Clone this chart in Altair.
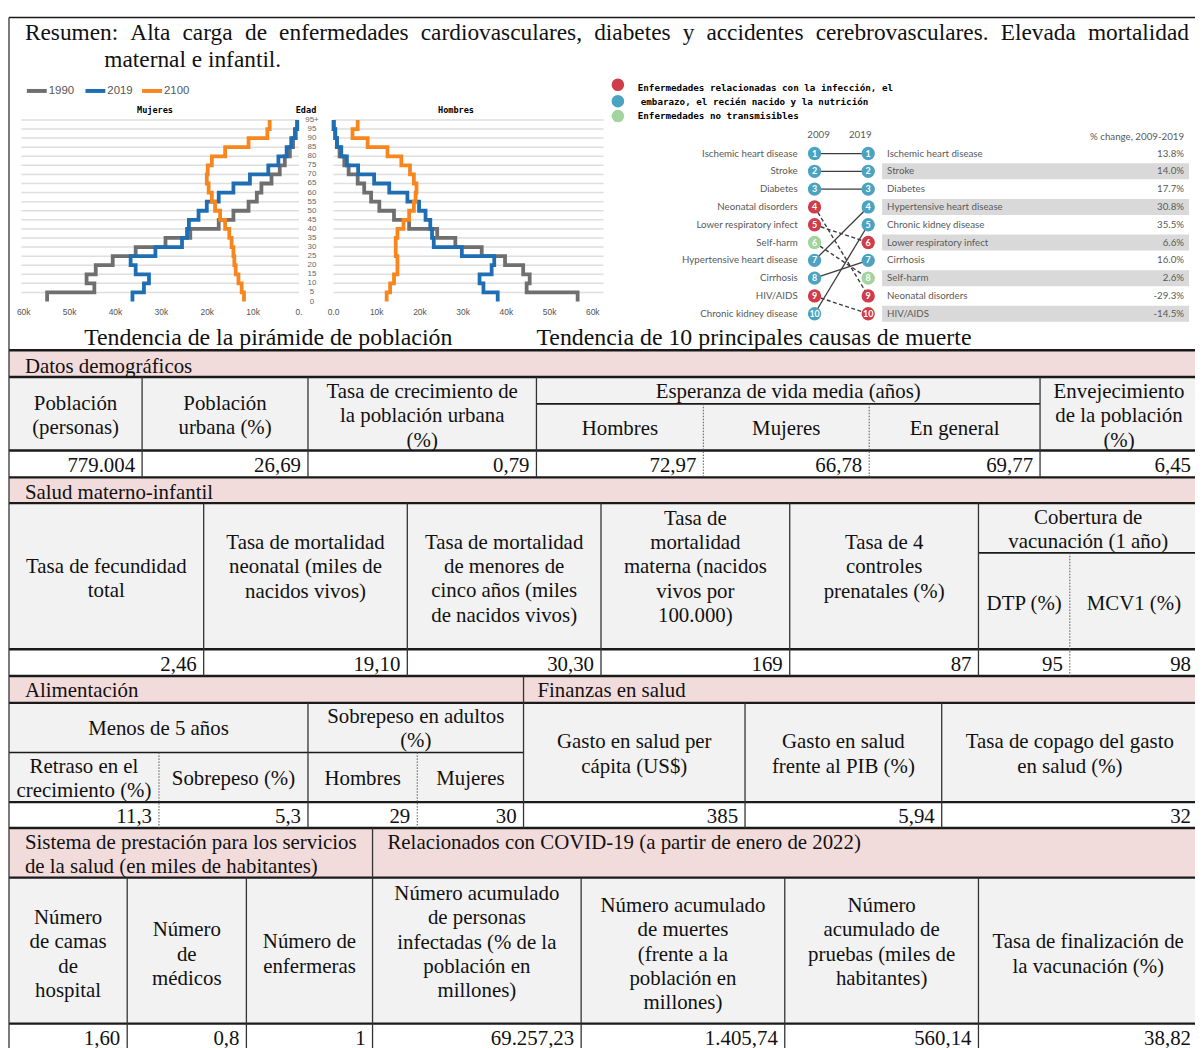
import altair as alt
import pandas as pd

# ======================= DATA =======================
summary_line1 = ("Resumen: Alta carga de enfermedades cardiovasculares, diabetes y "
                 "accidentes cerebrovasculares. Elevada mortalidad")
summary_line2 = "maternal e infantil."
title_pyramid = "Tendencia de la pirámide de población"
title_causes = "Tendencia de 10 principales causas de muerte"

# population pyramid, thousands of people per 5-year age group (0-4 ... 95+)
age_starts = list(range(0, 100, 5))
age_tick_labels = [str(a) for a in range(0, 100, 5)] + ["95+"]
pyramid_years = ["1990", "2019", "2100"]
women_1990 = [54.9, 44.6, 46.3, 44.3, 40.6, 35.6, 29.1, 23.7, 17.5, 14.3,
              11.0, 9.2, 8.2, 6.0, 4.2, 3.1, 2.0, 1.3, 0.7, 0.4]
women_2019 = [36.3, 33.8, 32.7, 35.6, 36.7, 31.3, 25.5, 24.4, 24.0, 21.9,
              20.1, 17.5, 14.3, 10.7, 6.7, 4.5, 2.7, 1.7, 0.9, 0.4]
women_2100 = [12.0, 12.5, 13.2, 13.8, 14.1, 14.3, 14.7, 15.2, 16.1, 17.2,
              18.3, 19.0, 19.7, 20.1, 19.9, 19.0, 16.1, 11.0, 6.9, 6.4]
men_1990 = [56.5, 44.7, 45.4, 43.9, 39.7, 34.3, 28.2, 24.0, 17.5, 14.0,
            10.6, 8.7, 7.1, 5.6, 3.5, 2.5, 1.4, 0.8, 0.4, 0.1]
men_2019 = [38.0, 34.7, 33.8, 36.6, 37.2, 29.7, 23.2, 22.8, 22.4, 21.3,
            19.8, 17.1, 12.9, 9.4, 5.7, 3.1, 1.8, 0.8, 0.4, 0.0]
men_2100 = [12.3, 13.1, 14.0, 14.8, 14.8, 14.4, 14.4, 14.8, 16.2, 17.5,
            18.6, 19.0, 19.2, 18.6, 17.7, 15.7, 12.5, 7.9, 4.4, 5.6]
pyr_ticks_k = [0, 10, 20, 30, 40, 50, 60]
women_tick_labels = ["0.", "10k", "20k", "30k", "40k", "50k", "60k"]
men_tick_labels = ["0.0", "10k", "20k", "30k", "40k", "50k", "60k"]
pyr_label_women = "Mujeres"
pyr_label_men = "Hombres"
pyr_label_age = "Edad"

# top-10 causes of death
cause_years = [2009, 2019]
causes_2009 = ["Ischemic heart disease", "Stroke", "Diabetes", "Neonatal disorders",
               "Lower respiratory infect", "Self-harm", "Hypertensive heart disease",
               "Cirrhosis", "HIV/AIDS", "Chronic kidney disease"]
groups_2009 = ["ncd", "ncd", "ncd", "cmnn", "cmnn", "inj", "ncd", "ncd", "cmnn", "ncd"]
causes_2019 = ["Ischemic heart disease", "Stroke", "Diabetes", "Hypertensive heart disease",
               "Chronic kidney disease", "Lower respiratory infect", "Cirrhosis",
               "Self-harm", "Neonatal disorders", "HIV/AIDS"]
groups_2019 = ["ncd", "ncd", "ncd", "ncd", "ncd", "cmnn", "ncd", "inj", "cmnn", "cmnn"]
pct_change = ["13.8%", "14.0%", "17.7%", "30.8%", "35.5%", "6.6%", "16.0%", "2.6%",
              "-29.3%", "-14.5%"]
pct_header = "% change, 2009-2019"
cause_groups = ["cmnn", "ncd", "inj"]
cause_legend_lines = ["Enfermedades relacionadas con la infección, el",
                      "embarazo, el recién nacido y la nutrición",
                      "Enfermedades no transmisibles"]

# tables
demo_section = "Datos demográficos"
demo_group_header = "Esperanza de vida media (años)"
demo_headers = ["Población\n(personas)", "Población\nurbana (%)",
                "Tasa de crecimiento de\nla población urbana\n(%)",
                "Hombres", "Mujeres", "En general",
                "Envejecimiento\nde la población\n(%)"]
demo_values = ["779.004", "26,69", "0,79", "72,97", "66,78", "69,77", "6,45"]

mch_section = "Salud materno-infantil"
mch_group_header = "Cobertura de\nvacunación (1 año)"
mch_headers = ["Tasa de fecundidad\ntotal",
               "Tasa de mortalidad\nneonatal (miles de\nnacidos vivos)",
               "Tasa de mortalidad\nde menores de\ncinco años (miles\nde nacidos vivos)",
               "Tasa de\nmortalidad\nmaterna (nacidos\nvivos por\n100.000)",
               "Tasa de 4\ncontroles\nprenatales (%)",
               "DTP (%)", "MCV1 (%)"]
mch_values = ["2,46", "19,10", "30,30", "169", "87", "95", "98"]

nut_section = "Alimentación"
fin_section = "Finanzas en salud"
nut_group_headers = ["Menos de 5 años", "Sobrepeso en adultos\n(%)"]
nut_fin_headers = ["Retraso en el\ncrecimiento (%)", "Sobrepeso (%)", "Hombres", "Mujeres",
                   "Gasto en salud per\ncápita (US$)", "Gasto en salud\nfrente al PIB (%)",
                   "Tasa de copago del gasto\nen salud (%)"]
nut_fin_values = ["11,3", "5,3", "29", "30", "385", "5,94", "32"]

sys_section = "Sistema de prestación para los servicios\nde la salud (en miles de habitantes)"
covid_section = "Relacionados con COVID-19 (a partir de enero de 2022)"
sys_covid_headers = ["Número\nde camas\nde\nhospital", "Número\nde\nmédicos",
                     "Número de\nenfermeras",
                     "Número acumulado\nde personas\ninfectadas (% de la\npoblación en\nmillones)",
                     "Número acumulado\nde muertes\n(frente a la\npoblación en\nmillones)",
                     "Número\nacumulado de\npruebas (miles de\nhabitantes)",
                     "Tasa de finalización de\nla vacunación (%)"]
sys_covid_values = ["1,60", "0,8", "1", "69.257,23", "1.405,74", "560,14", "38,82"]

# ======================= STYLE / LAYOUT =======================
SERIF = "Liberation Serif"
SANS = "Liberation Sans"
PINK = "#f2dcdb"
HEAD = "#f2f2f2"
LINE = "#1a1a1a"
pyr_colors = ["#6f6f6f", "#1f6eb3", "#f7861e"]
group_colors = ["#cf3d4b", "#4ba3c1", "#a2d49d"]

W, H = 1195, 1040
XP = alt.Scale(domain=[8, 8 + W], range=[0, W], nice=False, zero=False)
YP = alt.Scale(domain=[8, 8 + H], range=[0, H], nice=False, zero=False)


def px(v):
    return v - 8


def xq(f, scale=XP):
    return alt.X(f + ":Q", scale=scale, axis=None)


def yq(f, scale=YP):
    return alt.Y(f + ":Q", scale=scale, axis=None)


layers = []


def add_text(rows, dy=0.0, **mk):
    opts = dict(font=SERIF, fontSize=21, color="#111111", align="center",
                baseline="middle", lineBreak="\n", lineHeight=24.5)
    opts.update(mk)
    lh = opts["lineHeight"]
    # multi-line blocks: centre the whole block on the given y
    rows = [(x, y + dy - (t.count("\n")) * lh / 2.0, t) for x, y, t in rows]
    df = pd.DataFrame(rows, columns=["x", "y", "t"])
    layers.append(alt.Chart(df).mark_text(**opts).encode(
        x=xq("x"), y=yq("y"), text="t:N"))


# ---------- table geometry ----------
L, R = 9, 1206
pink_rows = [(349, 376), (477, 503), (677, 704), (830, 880)]
head_rows = [(376, 450), (503, 650), (704, 804), (880, 1027)]
demo_cols = [9, 143, 310, 540, 708, 875, 1047, 1206]
mch_cols = [9, 205, 410, 605, 795, 985, 1077, 1206]
nut_cols = [9, 160, 310, 420, 527, 750, 948, 1206]
sys_cols = [9, 128, 248, 375, 585, 790, 985, 1206]
data_cy = [464, 664, 817, 1041]
TDY = 1.5  # vertical nudge of table text

fills = [(L, R, a, b, PINK) for a, b in pink_rows] + [(L, R, a, b, HEAD) for a, b in head_rows]
fill_df = pd.DataFrame(fills, columns=["x1", "x2", "y1", "y2", "fill"])
layers.append(alt.Chart(fill_df).mark_rect(strokeWidth=0).encode(
    x=xq("x1"), x2="x2:Q", y=yq("y1"), y2="y2:Q", fill=alt.Fill("fill:N", scale=None)))

# horizontal lines
thick_h = [349, 376, 450, 477, 503, 650, 677, 704, 804, 830, 880, 1027]
h_df = pd.DataFrame([(L, R, y) for y in thick_h], columns=["x1", "x2", "y"])
layers.append(alt.Chart(h_df).mark_rule(color=LINE, strokeWidth=2.4).encode(
    x=xq("x1"), x2="x2:Q", y=yq("y")))
thin_h = [(L, R, 14), (540, 1047, 403), (985, R, 553), (L, 527, 754)]
th_df = pd.DataFrame(thin_h, columns=["x1", "x2", "y"])
layers.append(alt.Chart(th_df).mark_rule(color=LINE, strokeWidth=1.6).encode(
    x=xq("x1"), x2="x2:Q", y=yq("y")))

# vertical lines
vs = [(L, 14, 1056)]
vs += [(x, 376, 477) for x in [143, 310, 540, 1047]]
vs += [(x, 503, 677) for x in [205, 410, 605, 795, 985]]
vs += [(527, 677, 704)]
vs += [(x, 704, 830) for x in [310, 527, 750, 948]]
vs += [(375, 830, 880)]
vs += [(x, 880, 1056) for x in [128, 248, 375, 585, 790, 985]]
v_df = pd.DataFrame(vs, columns=["x", "y1", "y2"])
layers.append(alt.Chart(v_df).mark_rule(color="#333333", strokeWidth=1.3).encode(
    x=xq("x"), y=yq("y1"), y2="y2:Q"))
dots = [(708, 403, 477), (875, 403, 477), (1077, 553, 677), (160, 754, 830), (420, 754, 830)]
d_df = pd.DataFrame(dots, columns=["x", "y1", "y2"])
layers.append(alt.Chart(d_df).mark_rule(color="#555555", strokeWidth=1, strokeDash=[1.5, 1.5]).encode(
    x=xq("x"), y=yq("y1"), y2="y2:Q"))

# section titles (left aligned)
add_text([(25, 364, demo_section), (25, 491, mch_section), (25, 691, nut_section),
          (541, 691, fin_section), (25, 856, sys_section), (390, 844, covid_section)],
         dy=TDY, align="left")


def mid(a, b):
    return (a + b) / 2.0


# header texts
head_rows_txt = []
demo_cy = [414, 414, 414, 427, 427, 427, 414]
for i, t in enumerate(demo_headers):
    head_rows_txt.append((mid(demo_cols[i], demo_cols[i + 1]), demo_cy[i], t))
head_rows_txt.append((mid(540, 1047), 390, demo_group_header))
mch_cy = [578, 566, 578, 566, 566, 603, 603]
for i, t in enumerate(mch_headers):
    head_rows_txt.append((mid(mch_cols[i], mch_cols[i + 1]), mch_cy[i], t))
head_rows_txt.append((mid(985, R), 528.5, mch_group_header))
head_rows_txt.append((mid(L, 310), 729, nut_group_headers[0]))
head_rows_txt.append((mid(310, 527), 729, nut_group_headers[1]))
nut_cy = [779.5, 779, 779, 779, 754.5, 754.5, 754.5]
for i, t in enumerate(nut_fin_headers):
    head_rows_txt.append((mid(nut_cols[i], nut_cols[i + 1]), nut_cy[i], t))
sys_cy = [956, 956, 956, 944, 956, 944, 956]
for i, t in enumerate(sys_covid_headers):
    head_rows_txt.append((mid(sys_cols[i], sys_cols[i + 1]), sys_cy[i], t))
add_text(head_rows_txt, dy=TDY)

# data values (right aligned)
vals = []
for cols, values, cy in [(demo_cols, demo_values, data_cy[0]), (mch_cols, mch_values, data_cy[1]),
                         (nut_cols, nut_fin_values, data_cy[2]), (sys_cols, sys_covid_values, data_cy[3])]:
    for i, v in enumerate(values):
        vals.append((cols[i + 1] - 7, cy, v))
add_text(vals, dy=TDY, align="right")

# chart titles
add_text([(270, 336, title_pyramid), (759, 336, title_causes)], dy=1, fontSize=24)

# summary (justified first line)
TW = dict(zip("abcdefghijklmnopqrstuvwxyz",
              [444, 500, 444, 500, 444, 333, 500, 500, 278, 278, 500, 278, 778,
               500, 500, 500, 500, 333, 389, 278, 500, 500, 722, 500, 500, 444]))
TW.update({"A": 722, "E": 611, "R": 667, ",": 250, ".": 250, ":": 278, " ": 250})
SUM_SIZE = 23.5


def tw(s):
    return sum(TW.get(c, 500) for c in s) / 1000.0 * SUM_SIZE


words = summary_line1.split(" ")
left, right = 25, 1197
gap = (right - left - sum(tw(w) for w in words)) / (len(words) - 1)
pos, xs = left, []
for w in words:
    xs.append(pos)
    pos += tw(w) + gap
sum_rows = [(x, 30, w) for x, w in zip(xs, words)] + [(105, 57, summary_line2)]
add_text(sum_rows, align="left", fontSize=SUM_SIZE)

# ---------- population pyramid ----------
LX = alt.Scale(domain=[0, 60], range=[px(301), px(301 - 6 * 46.2)], nice=False, zero=False)
RX = alt.Scale(domain=[0, 60], range=[px(335.7), px(335.7 + 6 * 43.5)], nice=False, zero=False)
AY = alt.Scale(domain=[0, 100], range=[px(300), px(117.2)], nice=False, zero=False)

grid_df = pd.DataFrame({"age": [a + 5 for a in age_starts], "lo": 0})
layers.append(alt.Chart(grid_df.assign(hi=60.5)).mark_rule(color="#dedede", strokeWidth=1.5).encode(
    x=xq("lo", LX), x2="hi:Q", y=yq("age", AY)))
layers.append(alt.Chart(grid_df.assign(hi=62.5)).mark_rule(color="#dedede", strokeWidth=1.5).encode(
    x=xq("lo", RX), x2="hi:Q", y=yq("age", AY)))


def pyr_frame(series):
    rows = []
    for yr, vals_ in zip(pyramid_years, series):
        for a, v in zip(age_starts + [100], vals_ + [vals_[-1]]):
            rows.append(dict(year=yr, age=a, value=v))
    return pd.DataFrame(rows)


for series, sc in [([women_1990, women_2019, women_2100], LX), ([men_1990, men_2019, men_2100], RX)]:
    layers.append(alt.Chart(pyr_frame(series)).mark_line(
        interpolate="step-before", strokeWidth=3.8).encode(
        x=xq("value", sc), y=yq("age", AY),
        color=alt.Color("year:N", scale=alt.Scale(domain=pyramid_years, range=pyr_colors), legend=None),
        detail="year:N", order="age:Q"))

for labels, sc in [(women_tick_labels, LX), (men_tick_labels, RX)]:
    tdf = pd.DataFrame({"v": pyr_ticks_k, "t": labels})
    layers.append(alt.Chart(tdf).mark_text(font=SANS, fontSize=8.5, color="#555555").encode(
        x=xq("v", sc), y=alt.value(px(311)), text="t:N"))

adf = pd.DataFrame({"age": age_starts + [100], "t": age_tick_labels})
layers.append(alt.Chart(adf).mark_text(font=SANS, fontSize=8, color="#666666").encode(
    x=alt.value(px(314)), y=yq("age", AY), text="t:N"))

add_text([(156, 107, pyr_label_women), (308, 107, pyr_label_age), (459, 107, pyr_label_men)],
         font="DejaVu Sans Mono", fontWeight="bold", fontSize=8.6, color="#000000")

# pyramid legend
leg_x = [27, 86, 143]
leg_df = pd.DataFrame({"x1": leg_x, "x2": [x + 20 for x in leg_x], "y": 88, "year": pyramid_years})
layers.append(alt.Chart(leg_df).mark_rule(strokeWidth=4).encode(
    x=xq("x1"), x2="x2:Q", y=yq("y"),
    color=alt.Color("year:N", scale=alt.Scale(domain=pyramid_years, range=pyr_colors), legend=None)))
add_text([(x + 22, 88, yr) for x, yr in zip(leg_x, pyramid_years)],
         font=SANS, fontSize=11.5, color="#555555", align="left")

# ---------- top 10 causes ----------
RY = alt.Scale(domain=[1, 10], range=[px(151), px(312.3)], nice=False, zero=False)
YX = alt.Scale(domain=cause_years, range=[px(820), px(874)], nice=False, zero=False)
rank_2019 = [causes_2019.index(c) + 1 for c in causes_2009]

band_df = pd.DataFrame({"rank": list(range(2, 11, 2))})
layers.append(alt.Chart(band_df).transform_calculate(
    r1="datum.rank - 0.45", r2="datum.rank + 0.45").mark_rect(color="#d9d9d9").encode(
    x=alt.value(px(888)), x2=alt.value(px(1197)), y=yq("r1", RY), y2="r2:Q"))

link_rows = []
for i, c in enumerate(causes_2009):
    down = rank_2019[i] > i + 1
    link_rows.append(dict(cause=c, year=cause_years[0], rank=i + 1, down=down))
    link_rows.append(dict(cause=c, year=cause_years[1], rank=rank_2019[i], down=down))
link_df = pd.DataFrame(link_rows)
layers.append(alt.Chart(link_df[~link_df["down"]]).mark_line(color="#3c3c3c", strokeWidth=1.3).encode(
    x=xq("year", YX), y=yq("rank", RY), detail="cause:N"))
layers.append(alt.Chart(link_df[link_df["down"]]).mark_line(
    color="#3c3c3c", strokeWidth=1.4, strokeDash=[4, 2.5]).encode(
    x=xq("year", YX), y=yq("rank", RY), detail="cause:N"))

circ_rows = [dict(year=cause_years[0], rank=i + 1, g=g) for i, g in enumerate(groups_2009)]
circ_rows += [dict(year=cause_years[1], rank=i + 1, g=g) for i, g in enumerate(groups_2019)]
circ_df = pd.DataFrame(circ_rows)
layers.append(alt.Chart(circ_df).mark_circle(size=180, opacity=1).encode(
    x=xq("year", YX), y=yq("rank", RY),
    color=alt.Color("g:N", scale=alt.Scale(domain=cause_groups, range=group_colors), legend=None)))
layers.append(alt.Chart(circ_df).mark_text(font="Lato", fontWeight="bold", fontSize=9,
                                           color="white").encode(
    x=xq("year", YX), y=yq("rank", RY), text="rank:N"))

lab09 = pd.DataFrame({"rank": list(range(1, 11)), "t": causes_2009})
layers.append(alt.Chart(lab09).mark_text(font="Lato", fontSize=9.8, color="#595959", align="right").encode(
    x=alt.value(px(803)), y=yq("rank", RY), text="t:N"))
lab19 = pd.DataFrame({"rank": list(range(1, 11)), "t": causes_2019, "p": pct_change})
layers.append(alt.Chart(lab19).mark_text(font="Lato", fontSize=9.8, color="#595959", align="left").encode(
    x=alt.value(px(893)), y=yq("rank", RY), text="t:N"))
layers.append(alt.Chart(lab19).mark_text(font="Lato", fontSize=9.8, color="#595959", align="right").encode(
    x=alt.value(px(1192)), y=yq("rank", RY), text="p:N"))

add_text([(824, 132, str(cause_years[0])), (866, 132, str(cause_years[1]))],
         font="Lato", fontSize=9.8, color="#595959")
add_text([(1192, 134, pct_header)], font="Lato", fontSize=9.8, color="#595959", align="right")

# cause-group legend
cl_df = pd.DataFrame({"x": 622, "y": [81.7, 98.3, 113.3], "g": cause_groups})
layers.append(alt.Chart(cl_df).mark_circle(size=160, opacity=1).encode(
    x=xq("x"), y=yq("y"),
    color=alt.Color("g:N", scale=alt.Scale(domain=cause_groups, range=group_colors), legend=None)))
add_text([(642, 85, cause_legend_lines[0]), (645, 99.3, cause_legend_lines[1]),
          (642, 113.3, cause_legend_lines[2])],
         font="DejaVu Sans Mono", fontWeight="bold", fontSize=9.3, color="#000000", align="left")

# ======================= CHART =======================
chart = alt.layer(*layers).resolve_scale(
    x="independent", y="independent", color="independent"
).properties(
    width=W, height=H, autosize=alt.AutoSizeParams(type="none"), padding=0,
    background="white"
).configure_view(stroke=None)

chart.save("out.html", embed_options={"renderer": "svg", "actions": False})
